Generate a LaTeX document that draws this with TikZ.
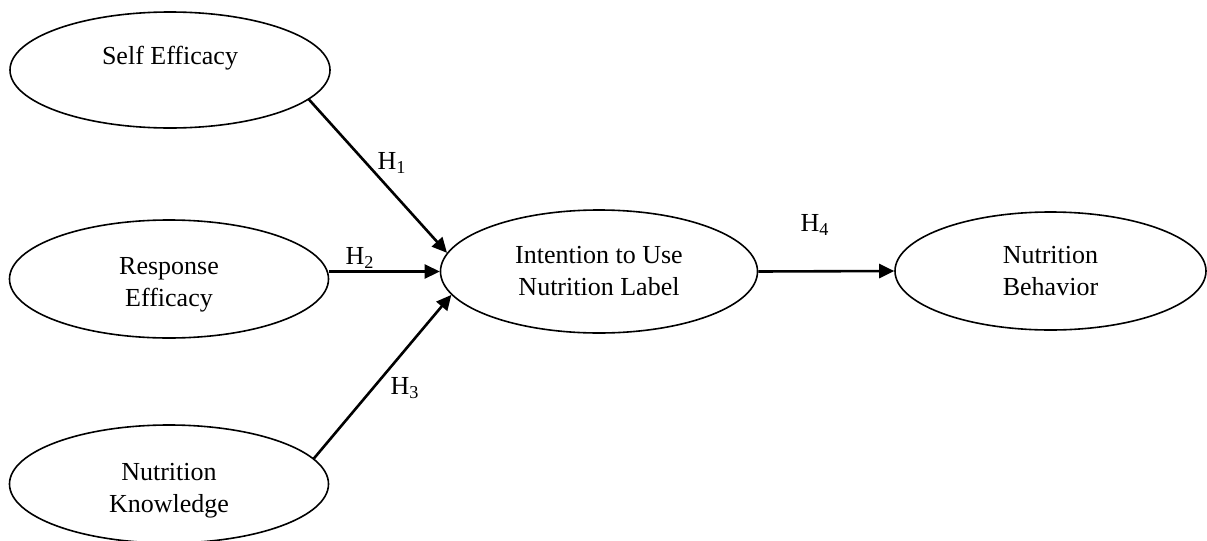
\documentclass[tikz,border=0pt]{standalone}
\usepackage{fontspec}
\setmainfont{Liberation Serif}
\usetikzlibrary{arrows.meta,shapes.geometric,calc}

\begin{document}
\begin{tikzpicture}[x=0.5pt,y=-0.5pt,
  font=\fontsize{13}{16}\selectfont,
  var/.style={ellipse, draw, line width=0.8pt, inner sep=0pt, align=center},
  hyp/.style={-{Triangle[length=7.5pt,width=7pt]}, line width=1.3pt}]

     \useasboundingbox (0,0) rectangle (1207,541);

     \node[var, minimum width=160pt, minimum height=58pt,
           label={[yshift=6pt]center:Self Efficacy}] (selfeff) at (170,70) {};
     \node[var, minimum width=159.5pt, minimum height=59pt,
           label={[yshift=-3pt, align=center]center:Response\\Efficacy}] (respeff) at (169,279) {};
     \node[var, minimum width=159.5pt, minimum height=59pt,
           label={[yshift=-3.5pt, align=center]center:Nutrition\\Knowledge}] (knowl) at (169,484) {};
     \node[var, minimum width=158.5pt, minimum height=61.5pt] (intent) at (599,271.5) {Intention to Use\\Nutrition Label};
     \node[var, minimum width=155.5pt, minimum height=59pt] (behav) at (1050.5,271) {Nutrition\\Behavior};

     \node (h1) at (392,163) {H\textsubscript{1}};
     \node (h2) at (360,258) {H\textsubscript{2}};
     \node (h3) at (405,388) {H\textsubscript{3}};
     \node (h4) at (815,225) {H\textsubscript{4}};

     \draw[hyp] (selfeff.-12) -- (intent.173);
     \draw[hyp] (respeff.east |- intent.west) -- (intent.west);
     \draw[hyp] (knowl.10) -- (intent.189);
     \draw[hyp] (intent.east) -- (behav.west);

\end{tikzpicture}
\end{document}
